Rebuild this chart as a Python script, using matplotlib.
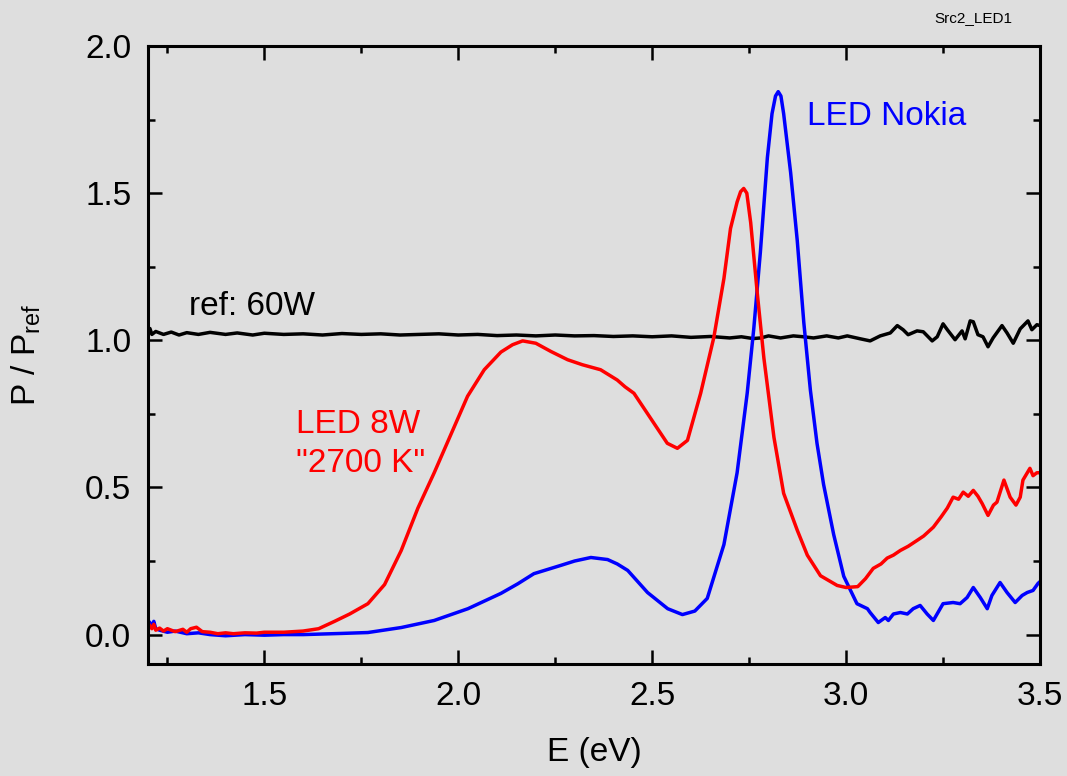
import matplotlib
matplotlib.use("Agg")
import matplotlib.pyplot as plt
from matplotlib.ticker import MultipleLocator

plt.rcParams['font.family'] = ['Liberation Sans', 'DejaVu Sans']
plt.rcParams['mathtext.fontset'] = 'custom'
plt.rcParams['mathtext.rm'] = 'Liberation Sans'
plt.rcParams['mathtext.it'] = 'Liberation Sans'

BG = "#dedede"

# Reference lamp (60 W), normalised
ref_E = [1.20, 1.205, 1.21, 1.22, 1.24, 1.26, 1.28, 1.30, 1.33, 1.36, 1.40, 1.43, 1.47,
         1.50, 1.55, 1.60, 1.65, 1.70, 1.75, 1.80, 1.85, 1.90, 1.95, 2.00, 2.05, 2.10,
         2.15, 2.20, 2.25, 2.30, 2.35, 2.40, 2.45, 2.50, 2.55, 2.60, 2.65, 2.70, 2.73,
         2.76, 2.78, 2.80, 2.831, 2.864, 2.89, 2.916, 2.95, 2.98, 3.003, 3.037, 3.062,
         3.088, 3.114, 3.132, 3.147, 3.160, 3.183, 3.199, 3.222, 3.235, 3.250, 3.261,
         3.281, 3.299, 3.307, 3.320, 3.328, 3.340, 3.353, 3.366, 3.379, 3.402, 3.415,
         3.431, 3.449, 3.469, 3.479, 3.492, 3.50]
ref_P = [1.03, 1.04, 1.02, 1.03, 1.02, 1.028, 1.018, 1.026, 1.02, 1.027, 1.02, 1.025, 1.018,
         1.024, 1.02, 1.022, 1.018, 1.023, 1.02, 1.022, 1.018, 1.02, 1.022, 1.018, 1.02, 1.016,
         1.018, 1.015, 1.018, 1.015, 1.016, 1.013, 1.015, 1.012, 1.015, 1.01, 1.013, 1.008, 1.012,
         1.006, 1.008, 1.015, 1.008, 1.015, 1.012, 1.008, 1.015, 1.008, 1.015, 1.005, 0.998,
         1.015, 1.025, 1.05, 1.036, 1.019, 1.032, 1.029, 0.998, 1.012, 1.056, 1.036,
         1.002, 1.032, 1.005, 1.066, 1.063, 1.019, 1.012, 0.978, 1.008, 1.05, 1.025,
         0.99, 1.039, 1.066, 1.036, 1.053, 1.05]

# LED 8W "2700 K"
led8_E = [1.205, 1.21, 1.215, 1.22, 1.23, 1.24, 1.25, 1.27, 1.29, 1.30, 1.31, 1.325, 1.34,
          1.36, 1.38, 1.40, 1.42, 1.45, 1.48, 1.50, 1.55, 1.60, 1.64, 1.681, 1.72, 1.767,
          1.81, 1.853, 1.896, 1.938, 1.981, 2.024, 2.067, 2.110, 2.14, 2.166, 2.20, 2.239, 2.282,
          2.32, 2.367, 2.41, 2.43, 2.453, 2.496, 2.539, 2.565, 2.591, 2.625, 2.659, 2.685,
          2.702, 2.719, 2.728, 2.736, 2.744, 2.754, 2.771, 2.788, 2.814, 2.839, 2.874, 2.90, 2.934,
          2.977, 3.00, 3.030, 3.05, 3.070, 3.09, 3.106, 3.122, 3.140, 3.16, 3.183, 3.20,
          3.225, 3.245, 3.261, 3.276, 3.29, 3.302, 3.315, 3.328, 3.34, 3.351, 3.366, 3.38,
          3.389, 3.407, 3.423, 3.438, 3.449, 3.456, 3.474, 3.482, 3.492, 3.50]
led8_P = [0.03, 0.02, 0.035, 0.015, 0.022, 0.012, 0.02, 0.01, 0.018, 0.008, 0.02, 0.025, 0.01,
          0.008, 0.003, 0.006, 0.003, 0.006, 0.005, 0.008, 0.008, 0.012, 0.02, 0.045, 0.07, 0.105,
          0.17, 0.286, 0.43, 0.55, 0.68, 0.81, 0.90, 0.96, 0.985, 0.998, 0.99, 0.962, 0.934,
          0.917, 0.90, 0.865, 0.842, 0.82, 0.735, 0.65, 0.633, 0.66, 0.82, 1.01, 1.21,
          1.38, 1.47, 1.505, 1.516, 1.50, 1.40, 1.16, 0.94, 0.67, 0.48, 0.355, 0.27, 0.20,
          0.167, 0.16, 0.163, 0.19, 0.225, 0.24, 0.26, 0.27, 0.286, 0.30, 0.32, 0.335,
          0.365, 0.40, 0.43, 0.467, 0.46, 0.484, 0.47, 0.49, 0.47, 0.445, 0.405, 0.44,
          0.45, 0.525, 0.467, 0.44, 0.467, 0.525, 0.565, 0.54, 0.55, 0.55]

# LED Nokia
nokia_E = [1.205, 1.21, 1.215, 1.22, 1.23, 1.25, 1.27, 1.30, 1.33, 1.36, 1.40, 1.45, 1.50,
           1.55, 1.60, 1.65, 1.70, 1.767, 1.853, 1.938, 2.025, 2.110, 2.154, 2.195, 2.264,
           2.30, 2.342, 2.385, 2.41, 2.437, 2.488, 2.54, 2.578, 2.61, 2.642, 2.685, 2.719,
           2.745, 2.762, 2.779, 2.797, 2.809, 2.818, 2.825, 2.832, 2.839, 2.857, 2.874, 2.891, 2.908,
           2.925, 2.942, 2.968, 2.994, 3.028, 3.055, 3.062, 3.083, 3.101, 3.109, 3.122,
           3.140, 3.158, 3.173, 3.191, 3.209, 3.225, 3.250, 3.276, 3.294, 3.312, 3.328,
           3.346, 3.364, 3.376, 3.397, 3.415, 3.436, 3.454, 3.467, 3.482, 3.495, 3.50]
nokia_P = [0.04, 0.03, 0.045, 0.02, 0.015, 0.008, 0.012, 0.003, 0.006, 0.0, -0.004, 0.0, -0.002,
           0.0, 0.0, 0.002, 0.004, 0.007, 0.024, 0.048, 0.088, 0.14, 0.173, 0.207, 0.235,
           0.25, 0.262, 0.255, 0.24, 0.218, 0.143, 0.088, 0.068, 0.08, 0.123, 0.306, 0.55,
           0.82, 1.04, 1.30, 1.62, 1.77, 1.83, 1.845, 1.83, 1.77, 1.57, 1.34, 1.06, 0.83,
           0.65, 0.51, 0.34, 0.198, 0.105, 0.088, 0.075, 0.041, 0.058, 0.048, 0.07,
           0.075, 0.07, 0.088, 0.099, 0.07, 0.048, 0.105, 0.109, 0.105, 0.126, 0.16,
           0.126, 0.088, 0.133, 0.177, 0.143, 0.109, 0.133, 0.143, 0.15, 0.174, 0.18]

fig = plt.figure(figsize=(10.67, 7.76), dpi=100, facecolor=BG)
ax = fig.add_axes([0.1387, 0.1443, 0.836, 0.7964], facecolor=BG)

lw = 2.5
ax.plot(ref_E, ref_P, color="black", lw=lw)
ax.plot(nokia_E, nokia_P, color="#0000ff", lw=lw)
ax.plot(led8_E, led8_P, color="#ff0000", lw=lw)

ax.set_xlim(1.2, 3.5)
ax.set_ylim(-0.1, 2.0)
ax.xaxis.set_major_locator(MultipleLocator(0.5))
ax.xaxis.set_minor_locator(MultipleLocator(0.25))
ax.yaxis.set_major_locator(MultipleLocator(0.5))
ax.yaxis.set_minor_locator(MultipleLocator(0.25))
ax.xaxis.set_major_formatter(plt.FormatStrFormatter('%.1f'))
ax.yaxis.set_major_formatter(plt.FormatStrFormatter('%.1f'))

ax.tick_params(which='both', direction='in', top=True, right=True, width=1.8, labelsize=24)
ax.tick_params(which='major', length=10)
ax.tick_params(which='minor', length=5)
ax.tick_params(axis='x', pad=12)
ax.tick_params(axis='y', pad=12)
for sp in ax.spines.values():
    sp.set_linewidth(2.2)

ax.set_xlabel("E (eV)", fontsize=24, labelpad=18)
ax.set_ylabel(r"P / P$_{\mathrm{ref}}$", fontsize=24, labelpad=30)

ax.text(1.307, 1.087, "ref: 60W", fontsize=24, color="black", va="baseline")
ax.text(1.582, 0.685, "LED 8W", fontsize=24, color="#ff0000", va="baseline")
ax.text(1.582, 0.552, '"2700 K"', fontsize=24, color="#ff0000", va="baseline")
ax.text(2.90, 1.731, "LED Nokia", fontsize=24, color="#0000ff", va="baseline")

fig.text(0.912, 0.977, "Src2_LED1", fontsize=11, ha="center", va="center")

fig.savefig("out.png", dpi=100, facecolor=BG)
